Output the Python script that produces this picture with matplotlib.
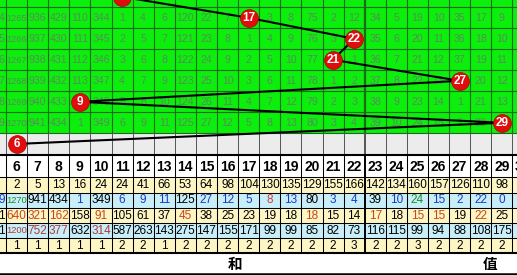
import matplotlib
matplotlib.use('Agg')
import matplotlib.pyplot as plt
from matplotlib.patches import Rectangle

# ---------------- data ----------------
cols = list(range(5, 31))  # column 5 and 30 are cut at the edges
header_labels = [''] + [str(c) for c in range(6, 30)] + ['30']

# omission grid (green area), top row only partly visible; 'B' = drawn ball
omit_rows = [
    ['3', '1264', '935', '428', '109', '343', 'B', '3', '5', '119', '21', '6', '', '2', '7', '74', '1', '11', '33', '4', '18', '9', '34', '16', '8', ''],
    ['4', '1265', '936', '429', '110', '344', '1', '4', '6', '120', '22', '7', 'B', '3', '8', '75', '2', '12', '34', '5', '19', '10', '35', '17', '9', ''],
    ['5', '1266', '937', '430', '111', '345', '2', '5', '7', '121', '23', '8', '1', '4', '9', '76', '3', 'B', '35', '6', '20', '11', '36', '18', '10', ''],
    ['6', '1267', '938', '431', '112', '346', '3', '6', '8', '122', '24', '9', '2', '5', '10', '77', 'B', '1', '36', '7', '21', '12', '37', '19', '11', ''],
    ['7', '1268', '939', '432', '113', '347', '4', '7', '9', '123', '25', '10', '3', '6', '11', '78', '1', '2', '37', '8', '22', '13', 'B', '20', '12', ''],
    ['8', '1269', '940', '433', 'B', '348', '5', '8', '10', '124', '26', '11', '4', '7', '12', '79', '2', '3', '38', '9', '23', '14', '1', '21', '13', ''],
    ['9', '1270', '941', '434', '1', '349', '6', '9', '11', '125', '27', '12', '5', '8', '13', '80', '3', '4', '39', '10', '24', '15', '2', '22', 'B', ''],
]
# drawn sum values, one per row (last one is the grey row)
ball_values = [11, 17, 22, 21, 27, 9, 29, 6]

# statistics rows
freq = ['', '2', '5', '13', '16', '24', '24', '41', '66', '53', '64', '98', '104', '130', '135', '129', '155', '166', '142', '134', '160', '157', '126', '110', '98', '']
cur_omit = ['9', '1270', '941', '434', '1', '349', '6', '9', '11', '125', '27', '12', '5', '8', '13', '80', '3', '4', '39', '10', '24', '15', '2', '22', '0', '']
avg_omit = ['1', '640', '321', '162', '158', '91', '105', '61', '37', '45', '38', '25', '23', '19', '18', '18', '15', '14', '17', '18', '15', '15', '19', '22', '25', '']
max_omit = ['1', '1200', '752', '377', '632', '314', '587', '263', '143', '275', '147', '155', '171', '99', '99', '85', '82', '73', '116', '115', '99', '94', '88', '108', '175', '']
max_hit = ['', '1', '1', '1', '1', '1', '2', '2', '1', '2', '2', '2', '2', '2', '2', '2', '2', '3', '2', '2', '3', '2', '2', '2', '2', '']

cur_col = list('bgkkbkbbbkbbbrbkbbkbgbbbbb')
avg_col = list('krrrkrkkkrkkkkkrkkrkrrkrkr')
max_col = list('krrrkrkkkkkkkkkkkkkkkkkkkk')
bottom_label = ['和', '值']

# ---------------- layout ----------------
W, H = 517, 275
CW = 21.1           # column width in px
X0 = 6 - 6 / CW
X1 = 6 + (W - 6) / CW

def cx(c):
    return c + 0.5

fig = plt.figure(figsize=(W / 100, H / 100), dpi=100)
ax = fig.add_axes([0, 0, 1, 1])
ax.set_xlim(X0, X1)
ax.set_ylim(H, 0)
ax.axis('off')

NUMF = 'Liberation Sans'
green = '#0cee0c'
gline = '#1d6a1d'
gtext = '#5b8a5b'

row_top = [-13.7 + 21 * r for r in range(8)]   # tops of green rows and grey row
RH = 21
grey_top, grey_bot = 133.3, 154.6
hdr_top, hdr_bot = 155.6, 177.3
stat_edges = [177.3, 192.5, 207.6, 222.7, 237.8, 252.8]
label_bot = 272.8

# green area
ax.add_patch(Rectangle((X0, -20), X1 - X0, grey_top + 20, color=green, zorder=0, lw=0))
for r in range(1, 8):
    ax.plot([X0, X1], [row_top[r], row_top[r]], color=gline, lw=0.8, zorder=1)
for c in range(6, 31):
    ax.plot([c, c], [-20, grey_top], color=gline, lw=1.6 if c == 23 else 0.8, zorder=1)

# grey row
ax.add_patch(Rectangle((X0, grey_top), X1 - X0, grey_bot - grey_top, color='#ececec', zorder=0, lw=0))
for c in range(6, 31):
    ax.plot([c, c], [grey_top, grey_bot], color='#555555', lw=1.4 if c == 23 else 0.7, zorder=1)

# green numbers
for r, row in enumerate(omit_rows):
    yc = row_top[r] + RH / 2 + 0.5
    for i, v in enumerate(row):
        c = cols[i]
        if v in ('', 'B'):
            continue
        fs = 6.6 if len(v) >= 4 else 7.6
        if c == 5:
            ax.text(c + 1 - 0.08, yc, v, ha='right', va='center', fontsize=fs, color=gtext, family=NUMF, zorder=2)
        else:
            ax.text(cx(c), yc, v, ha='center', va='center', fontsize=fs, color=gtext, family=NUMF, zorder=2)

# header + stats background
ax.plot([X0, X1], [155.1, 155.1], color='black', lw=1.5, zorder=3)
ax.add_patch(Rectangle((X0, hdr_top), X1 - X0, hdr_bot - hdr_top, color='white', zorder=0, lw=0))
fills = ['#fdf5c4', '#c8eefa', '#fdf5c4', '#c8eefa', '#fdf5c4']
for k in range(5):
    ax.add_patch(Rectangle((X0, stat_edges[k]), X1 - X0, stat_edges[k + 1] - stat_edges[k],
                           color=fills[k], zorder=0, lw=0))
for y in stat_edges[:-1]:
    ax.plot([X0, X1], [y, y], color='black', lw=0.75, zorder=3)
ax.plot([X0, X1], [253.2, 253.2], color='black', lw=1.5, zorder=3)
for c in range(6, 31):
    ax.plot([c, c], [hdr_top, 253.2], color='black', lw=1.4 if c == 23 else 0.75, zorder=3)
ax.add_patch(Rectangle((X0, 253.2), X1 - X0, label_bot - 253.2, color='white', zorder=0, lw=0))
ax.plot([X0, X1], [273.6, 273.6], color='black', lw=1.8, zorder=3)

# header labels
for i, lab in enumerate(header_labels):
    if lab:
        ax.text(cx(cols[i]), (hdr_top + hdr_bot) / 2 + 0.5, lab, ha='center', va='center',
                fontsize=10, fontweight='bold', color='black', family=NUMF, zorder=4)

cmap = {'k': 'black', 'b': '#1a3cc0', 'g': '#18901e', 'r': '#d03c3c'}
cmap_avg = dict(cmap, r='#c8461a')
cmap_max = dict(cmap, r='#b03838')
stat_rows = [
    (freq, ['k'] * 26, cmap),
    (cur_omit, cur_col, cmap),
    (avg_omit, avg_col, cmap_avg),
    (max_omit, max_col, cmap_max),
    (max_hit, ['k'] * 26, cmap),
]
for k, (vals, ccodes, cm) in enumerate(stat_rows):
    yc = (stat_edges[k] + stat_edges[k + 1]) / 2 + 0.4
    for i, v in enumerate(vals):
        if not v:
            continue
        c = cols[i]
        fs = 6.7 if len(v) >= 4 else 8.5
        if c == 5:
            ax.text(c + 1 - 0.05, yc, v, ha='right', va='center', fontsize=fs,
                    color=cm[ccodes[i]], family=NUMF, zorder=4)
        else:
            ax.text(cx(c), yc, v, ha='center', va='center', fontsize=fs,
                    color=cm[ccodes[i]], family=NUMF, zorder=4)

# bottom label
ax.text(6 + (235 - 6) / CW, 263.5, bottom_label[0], ha='center', va='center', fontsize=10.5,
        fontweight='bold', family=['Noto Sans CJK SC', 'DejaVu Sans'], zorder=4)
ax.text(6 + (490 - 6) / CW, 263.5, bottom_label[1], ha='center', va='center', fontsize=10.5,
        fontweight='bold', family=['Noto Sans CJK SC', 'DejaVu Sans'], zorder=4)

# trend line and balls
bx = [cx(v) for v in ball_values]
by = [row_top[r] + RH / 2 for r in range(len(ball_values))]
by[-1] = (grey_top + grey_bot) / 2
ax.plot(bx, by, color='black', lw=1.5, zorder=5, solid_capstyle='round')
ax.scatter(bx, by, s=165, color='#e00d0d', edgecolors='#b00000', linewidths=0.5, zorder=6)
for x, y, v in zip(bx, by, ball_values):
    ax.text(x, y + 0.5, str(v), ha='center', va='center', fontsize=8.5, fontweight='bold',
            color='white', family=NUMF, zorder=7)

fig.savefig('out.png', dpi=100)
